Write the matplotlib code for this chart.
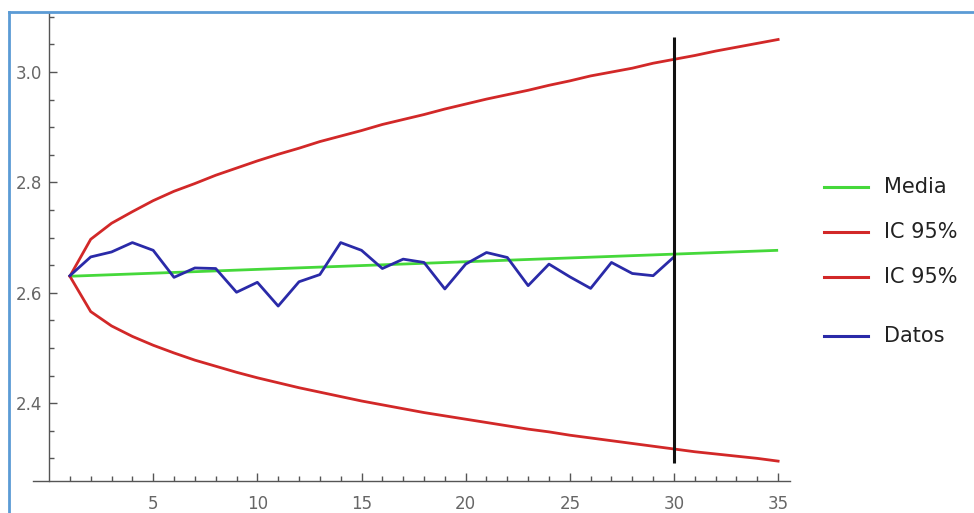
import matplotlib.pyplot as plt
from matplotlib.lines import Line2D
from matplotlib.ticker import FixedLocator, FixedFormatter

# datos observados (t = 1..30)
t_datos = list(range(1, 31))
datos = [2.631, 2.665, 2.674, 2.691, 2.677, 2.628, 2.645, 2.644, 2.601, 2.619,
         2.576, 2.620, 2.633, 2.691, 2.677, 2.644, 2.661, 2.655, 2.607, 2.652,
         2.673, 2.664, 2.613, 2.652, 2.629, 2.608, 2.655, 2.635, 2.631, 2.665]

# media (recta) entre t = 1 y t = 35
t_media = [1, 35]
media = [2.630, 2.677]

# bandas IC 95% (t = 1..35)
t_ic = list(range(1, 36))
ic_sup = [2.630, 2.697, 2.726, 2.747, 2.767, 2.784, 2.798, 2.813, 2.826, 2.839,
          2.851, 2.862, 2.874, 2.884, 2.894, 2.905, 2.914, 2.923, 2.933, 2.942,
          2.951, 2.959, 2.967, 2.976, 2.984, 2.993, 3.000, 3.007, 3.016, 3.023,
          3.030, 3.038, 3.045, 3.052, 3.059]
ic_inf = [2.630, 2.566, 2.540, 2.521, 2.505, 2.491, 2.478, 2.467, 2.456, 2.446,
          2.437, 2.428, 2.420, 2.412, 2.404, 2.397, 2.390, 2.383, 2.377, 2.371,
          2.365, 2.359, 2.353, 2.348, 2.342, 2.337, 2.332, 2.327, 2.322, 2.317,
          2.312, 2.308, 2.304, 2.300, 2.295]

# linea vertical en t = 30
t_corte = 30
corte_y = [2.291, 3.064]

etiquetas = ['Media', 'IC 95%', 'IC 95%', 'Datos']
colores = ['#45d83a', '#d22828', '#d22828', '#2a2aa8']

x_ticks = [5, 10, 15, 20, 25, 30, 35]
y_ticks = [2.4, 2.6, 2.8, 3.0]
y_tick_labels = ['2.4', '2.6', '2.8', '3.0']

W, H = 974, 513
fig = plt.figure(figsize=(W / 100, H / 100), dpi=100)
ax = fig.add_axes([33 / W, 1 - 481 / H, (790 - 33) / W, (481 - 13) / H])

ax.plot(t_media, media, color=colores[0], lw=2.0, solid_capstyle='butt')
ax.plot(t_ic, ic_sup, color=colores[1], lw=2.0)
ax.plot(t_ic, ic_inf, color=colores[2], lw=2.0)
ax.plot(t_datos, datos, color=colores[3], lw=2.0)
ax.plot([t_corte, t_corte], corte_y, color='#111111', lw=2.2, solid_capstyle='butt')

ax.set_xlim(-0.77, 35.57)
ax.set_ylim(2.259, 3.107)

for s in ['top', 'right']:
    ax.spines[s].set_visible(False)
ax.spines['left'].set_position(('data', 0))
for s in ['left', 'bottom']:
    ax.spines[s].set_color('#555555')
    ax.spines[s].set_linewidth(1.0)

ax.xaxis.set_major_locator(FixedLocator(x_ticks))
ax.xaxis.set_minor_locator(FixedLocator([i for i in range(1, 36) if i % 5 != 0]))
ax.yaxis.set_major_locator(FixedLocator(y_ticks))
ax.yaxis.set_major_formatter(FixedFormatter(y_tick_labels))
ax.yaxis.set_minor_locator(FixedLocator([round(2.30 + 0.05 * i, 2) for i in range(17)]))

ax.tick_params(which='both', direction='in', color='#555555', width=1.0,
               labelcolor='#666666', labelsize=12)
ax.tick_params(which='major', length=6)
ax.tick_params(which='minor', length=3.5)
ax.tick_params(axis='x', which='major', pad=10)
ax.tick_params(axis='y', which='major', pad=5)

# leyenda
leg_y = [187, 232, 277, 336]
for lab, col, yy in zip(etiquetas, colores, leg_y):
    fig.add_artist(Line2D([824 / W, 868 / W], [1 - yy / H, 1 - yy / H],
                          transform=fig.transFigure, color=col, lw=2.2))
    fig.text(884 / W, 1 - yy / H, lab, fontsize=15, color='#222222',
             va='center', ha='left')

# marco azul de la captura
borde = '#5b9bd5'
fig.add_artist(Line2D([9 / W, 1], [1 - 11.5 / H, 1 - 11.5 / H],
                      transform=fig.transFigure, color=borde, lw=2))
fig.add_artist(Line2D([9 / W, 9 / W], [0, 1 - 11.5 / H],
                      transform=fig.transFigure, color=borde, lw=2))

fig.savefig('out.png', dpi=100)
